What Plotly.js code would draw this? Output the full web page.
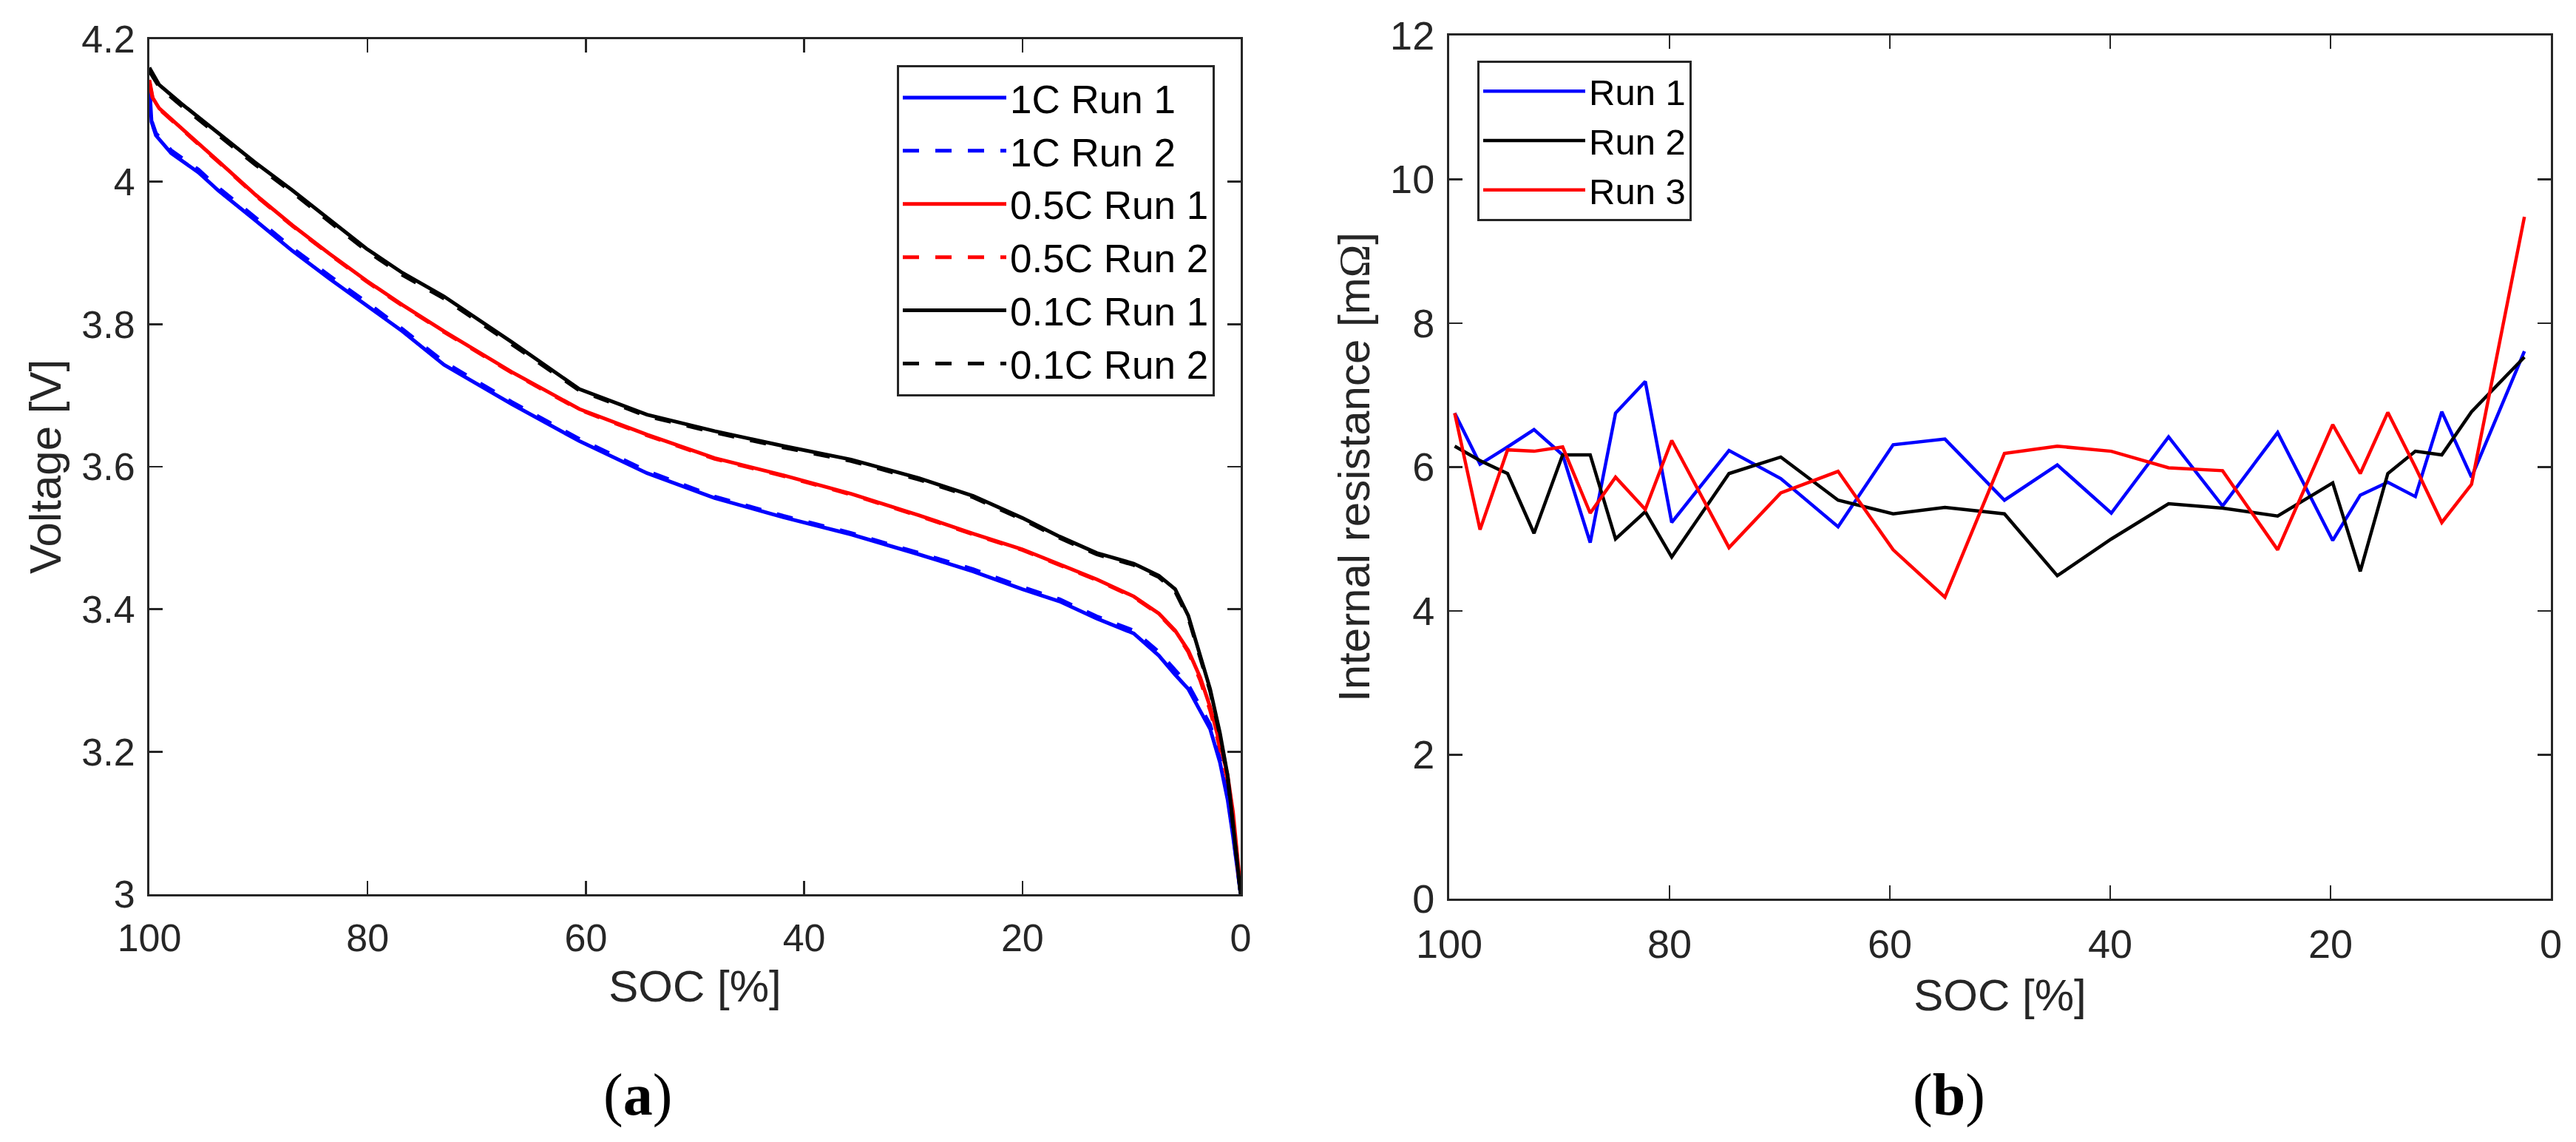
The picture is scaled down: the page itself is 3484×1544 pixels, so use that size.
<!DOCTYPE html>
<html>
<head>
<meta charset="utf-8">
<script src="https://cdn.plot.ly/plotly-3.0.1.min.js"></script>
<style>
  html, body { margin: 0; padding: 0; background: #fff; }
  #chart { width: 3484px; height: 1544px; }
</style>
</head>
<body>
<div id="chart"></div>
<script>
// (a) discharge voltage vs SOC
var soc_1c = [100, 99.8, 99.4, 98, 95.5, 93.7, 90.3, 86.9, 83.5, 80.1, 76.8, 73, 66.8, 60.6, 54.4, 48.2, 41.9, 35.7, 29.5, 24.5, 20, 16.6, 13.2, 9.8, 7.5, 6, 4.8, 3.7, 2.8, 1.9, 1.2, 0.7, 0.3, 0];
var v_1c_run1 = [4.136, 4.084, 4.065, 4.040, 4.013, 3.988, 3.946, 3.903, 3.864, 3.827, 3.790, 3.743, 3.688, 3.636, 3.591, 3.556, 3.529, 3.505, 3.477, 3.453, 3.428, 3.411, 3.387, 3.366, 3.335, 3.308, 3.288, 3.257, 3.232, 3.185, 3.133, 3.081, 3.030, 3.000];
var v_1c_run2 = [4.130, 4.086, 4.068, 4.044, 4.017, 3.992, 3.950, 3.907, 3.868, 3.831, 3.793, 3.747, 3.691, 3.639, 3.594, 3.558, 3.531, 3.507, 3.479, 3.456, 3.431, 3.414, 3.390, 3.370, 3.340, 3.315, 3.294, 3.263, 3.238, 3.190, 3.138, 3.085, 3.034, 3.000];

var soc_05c = [100, 99.7, 99.1, 97.1, 93.7, 90.3, 86.9, 83.5, 80.1, 76.8, 73, 66.8, 60.6, 54.4, 48.2, 41.9, 35.7, 29.5, 24.5, 20, 16.6, 13.2, 9.8, 7.5, 6, 4.8, 3.7, 2.8, 1.9, 1.2, 0.7, 0.3, 0];
var v_05c_run1 = [4.143, 4.118, 4.103, 4.076, 4.029, 3.982, 3.939, 3.899, 3.861, 3.827, 3.790, 3.733, 3.681, 3.645, 3.612, 3.588, 3.562, 3.532, 3.506, 3.484, 3.463, 3.442, 3.418, 3.394, 3.370, 3.342, 3.304, 3.263, 3.211, 3.167, 3.115, 3.046, 3.005];
var v_05c_run2 = [4.140, 4.117, 4.102, 4.075, 4.028, 3.981, 3.938, 3.898, 3.860, 3.826, 3.789, 3.732, 3.680, 3.644, 3.611, 3.587, 3.561, 3.531, 3.505, 3.483, 3.462, 3.441, 3.417, 3.393, 3.369, 3.340, 3.300, 3.258, 3.205, 3.160, 3.108, 3.040, 3.005];

var soc_01c = [100, 99.1, 97.1, 93.7, 90.3, 86.9, 83.5, 80.1, 76.8, 73, 66.8, 60.6, 54.4, 48.2, 41.9, 35.7, 29.5, 24.5, 20, 16.6, 13.2, 9.8, 7.5, 6, 4.8, 3.7, 2.8, 1.9, 1.2, 0.7, 0.2, 0];
var v_01c_run1 = [4.160, 4.136, 4.110, 4.068, 4.027, 3.988, 3.947, 3.906, 3.872, 3.839, 3.775, 3.709, 3.673, 3.650, 3.629, 3.610, 3.584, 3.559, 3.528, 3.502, 3.479, 3.464, 3.447, 3.428, 3.391, 3.335, 3.288, 3.226, 3.167, 3.098, 3.030, 3.000];
var v_01c_run2 = [4.155, 4.133, 4.107, 4.065, 4.024, 3.985, 3.944, 3.903, 3.869, 3.836, 3.772, 3.707, 3.671, 3.648, 3.627, 3.608, 3.582, 3.557, 3.526, 3.500, 3.477, 3.462, 3.445, 3.425, 3.388, 3.332, 3.285, 3.223, 3.164, 3.095, 3.028, 3.000];

// (b) internal resistance vs SOC
var soc_r = [99.5, 97.2, 94.7, 92.3, 89.7, 87.2, 84.9, 82.2, 79.8, 74.6, 69.9, 64.7, 59.7, 55.0, 49.6, 44.8, 39.9, 34.7, 29.8, 24.8, 19.8, 17.3, 14.8, 12.3, 9.9, 7.2, 2.4];
var r_run1 = [6.75, 6.04, 6.28, 6.52, 6.17, 4.95, 6.75, 7.19, 5.23, 6.23, 5.84, 5.17, 6.31, 6.39, 5.54, 6.03, 5.36, 6.42, 5.46, 6.48, 4.98, 5.61, 5.79, 5.59, 6.77, 5.86, 7.61];
var r_run2 = [6.29, 6.09, 5.91, 5.08, 6.17, 6.17, 5.00, 5.38, 4.75, 5.91, 6.14, 5.54, 5.35, 5.44, 5.35, 4.49, 5.00, 5.49, 5.43, 5.32, 5.78, 4.55, 5.91, 6.22, 6.17, 6.77, 7.53];
var r_run3 = [6.75, 5.13, 6.24, 6.22, 6.28, 5.36, 5.86, 5.41, 6.37, 4.88, 5.64, 5.94, 4.85, 4.19, 6.19, 6.29, 6.22, 5.99, 5.95, 4.85, 6.59, 5.91, 6.76, 6.00, 5.23, 5.76, 9.48];

var soc_ticks = [0, 20, 40, 60, 80, 100];
var v_ticks = [3, 3.2, 3.4, 3.6, 3.8, 4, 4.2];
var v_tick_text = ['3', '3.2', '3.4', '3.6', '3.8', '4', '4.2'];
var r_ticks = [0, 2, 4, 6, 8, 10, 12];

var FONT = 'Liberation Sans, Arial, sans-serif';
var SERIF = 'Liberation Serif, Times New Roman, serif';
var AX = '#262626';
var W = 3484, H = 1544;

function line(x, y, name, color, dash, width, legend) {
    return {
        x: x, y: y, name: name, type: 'scatter', mode: 'lines',
        line: { color: color, width: width, dash: dash },
        legend: legend
    };
}

var data = [];
data.push(line(soc_1c, v_1c_run1, '1C Run 1', '#0000ff', 'solid', 5, 'legend'));
data.push(line(soc_1c, v_1c_run2, '1C Run 2', '#0000ff', '22px,22px', 5, 'legend'));
data.push(line(soc_05c, v_05c_run1, '0.5C Run 1', '#ff0000', 'solid', 5, 'legend'));
data.push(line(soc_05c, v_05c_run2, '0.5C Run 2', '#ff0000', '22px,22px', 5, 'legend'));
data.push(line(soc_01c, v_01c_run1, '0.1C Run 1', '#000000', 'solid', 5, 'legend'));
data.push(line(soc_01c, v_01c_run2, '0.1C Run 2', '#000000', '22px,22px', 5, 'legend'));

var rb = [['Run 1', r_run1, '#0000ff'], ['Run 2', r_run2, '#000000'], ['Run 3', r_run3, '#ff0000']];
for (var i = 0; i < rb.length; i++) {
    var t = line(soc_r, rb[i][1], rb[i][0], rb[i][2], 'solid', 4.5, 'legend2');
    t.xaxis = 'x2';
    t.yaxis = 'y2';
    data.push(t);
}

function axis(dom, extra) {
    var a = {
        domain: dom,
        showline: true, linecolor: AX, linewidth: 3, mirror: 'ticks',
        ticks: 'inside', ticklen: 18, tickwidth: 2.5, tickcolor: AX,
        showgrid: false, zeroline: false,
        tickfont: { family: FONT, size: 52, color: AX },
        fixedrange: true
    };
    for (var k in extra) a[k] = extra[k];
    return a;
}

var layout = {
    width: W, height: H,
    margin: { l: 0, r: 0, t: 0, b: 0 },
    paper_bgcolor: 'white', plot_bgcolor: 'white',
    showlegend: true,
    xaxis: axis([202 / W, 1678 / W], {
        range: [100, 0], tickvals: soc_ticks, anchor: 'y',
        ticklabelstandoff: 12,
        title: { text: 'SOC [%]', font: { family: FONT, size: 60, color: AX }, standoff: 16 }
    }),
    yaxis: axis([1 - 1209 / H, 1 - 53 / H], {
        range: [3, 4.2], tickvals: v_ticks, ticktext: v_tick_text, anchor: 'x',
        ticklabelstandoff: 6,
        title: { text: 'Voltage [V]', font: { family: FONT, size: 60, color: AX }, standoff: 9 }
    }),
    xaxis2: axis([1960 / W, 3450 / W], {
        range: [100, 0], tickvals: soc_ticks, anchor: 'y2',
        ticklabelstandoff: 12,
        tickfont: { family: FONT, size: 54, color: AX },
        title: { text: 'SOC [%]', font: { family: FONT, size: 60, color: AX }, standoff: 20 }
    }),
    yaxis2: axis([1 - 1215 / H, 1 - 48 / H], {
        range: [0, 12], tickvals: r_ticks, anchor: 'x2',
        ticklabelstandoff: 6,
        tickfont: { family: FONT, size: 54, color: AX },
        title: { text: 'Internal resistance [m<span style="font-family:' + SERIF + '">\u03A9</span>]',
                 font: { family: FONT, size: 60, color: AX }, standoff: 9 }
    }),
    legend: {
        x: 1643 / W, xanchor: 'right', y: 1 - 88 / H, yanchor: 'top',
        bgcolor: 'white', bordercolor: AX, borderwidth: 3,
        font: { family: FONT, size: 53, color: '#000' },
        itemwidth: 140, tracegroupgap: 0
    },
    legend2: {
        x: 1998 / W, xanchor: 'left', y: 1 - 82 / H, yanchor: 'top',
        bgcolor: 'white', bordercolor: AX, borderwidth: 3,
        font: { family: FONT, size: 49, color: '#000' },
        itemwidth: 138, tracegroupgap: 0
    },
    annotations: [
        { text: '(<b>a</b>)', x: 862 / W, y: 1 - 1480 / H, xref: 'paper', yref: 'paper',
          xanchor: 'center', yanchor: 'middle', showarrow: false,
          font: { family: SERIF, size: 80, color: '#000' } },
        { text: '(<b>b</b>)', x: 2636 / W, y: 1 - 1480 / H, xref: 'paper', yref: 'paper',
          xanchor: 'center', yanchor: 'middle', showarrow: false,
          font: { family: SERIF, size: 80, color: '#000' } }
    ]
};

Plotly.newPlot('chart', data, layout, { staticPlot: true, displayModeBar: false });
</script>
</body>
</html>
